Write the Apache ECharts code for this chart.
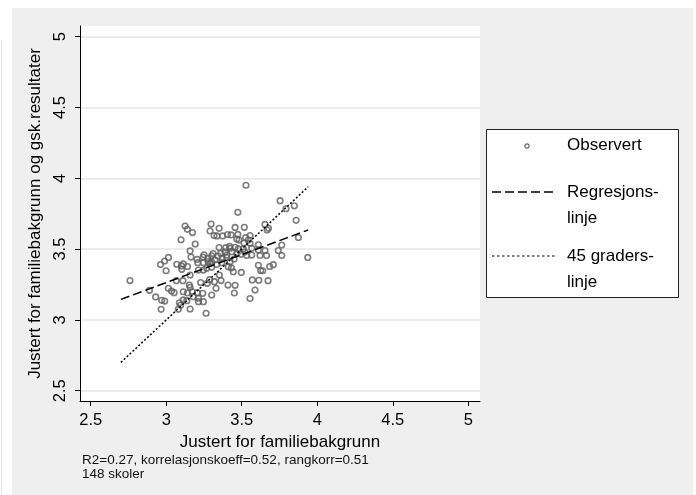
<!DOCTYPE html>
<html><head><meta charset="utf-8">
<script src="https://cdn.jsdelivr.net/npm/echarts@6/dist/echarts.min.js"></script>
<style>html,body{margin:0;padding:0;background:#fff}#c{width:696px;height:495px}</style>
</head><body><div id="c"></div>
<script>
const obsX = [3.528,3.754,3.848,3.793,3.474,3.860,3.654,3.677,3.668,3.875,3.937,3.765,3.742,3.765,
3.125,3.140,3.174,3.098,3.192,3.158,3.297,3.290,3.317,3.350,3.336,3.373,3.406,3.429,3.456,3.517,
3.474,3.467,3.482,3.526,3.555,3.544,3.515,3.555,3.566,3.350,3.394,3.423,3.456,3.477,3.511,3.434,
3.401,3.495,3.533,3.566,3.610,3.654,3.621,3.664,3.015,2.989,2.962,2.999,3.070,3.101,3.113,3.141,
3.103,3.164,3.204,3.209,3.246,3.290,3.334,3.368,3.423,3.268,3.301,3.213,3.246,3.301,3.244,3.277,
3.310,3.343,3.370,3.323,3.277,3.389,3.411,3.432,3.444,3.497,3.610,3.625,3.639,3.685,3.709,3.158,
3.352,2.760,3.067,3.111,3.153,3.158,3.228,3.287,3.319,3.363,3.330,3.409,3.456,3.451,3.570,3.613,
3.674,3.588,3.555,2.889,2.930,2.970,2.990,2.966,3.014,3.035,3.052,3.113,3.140,3.173,3.206,3.242,
3.272,3.301,3.213,3.213,3.246,3.113,3.136,3.087,3.096,3.080,3.158,3.264,3.179,3.360,3.400,3.450,
3.470,3.250,3.520,3.420,3.300,3.610];
const obsY = [3.951,3.842,3.806,3.785,3.760,3.703,3.674,3.647,3.635,3.582,3.441,3.529,3.490,3.455,
3.663,3.640,3.617,3.566,3.536,3.487,3.677,3.628,3.596,3.647,3.593,3.593,3.603,3.600,3.653,3.654,
3.604,3.571,3.564,3.581,3.596,3.564,3.543,3.541,3.506,3.511,3.510,3.506,3.513,3.501,3.501,3.482,
3.458,3.463,3.455,3.458,3.494,3.490,3.455,3.455,3.441,3.416,3.391,3.347,3.393,3.381,3.395,3.377,
3.357,3.444,3.427,3.404,3.404,3.400,3.391,3.404,3.411,3.364,3.371,3.352,3.352,3.453,3.444,3.434,
3.469,3.451,3.434,3.423,3.412,3.480,3.376,3.367,3.340,3.335,3.386,3.349,3.347,3.377,3.390,3.317,
3.317,3.278,3.277,3.277,3.246,3.230,3.264,3.284,3.270,3.278,3.223,3.246,3.244,3.190,3.282,3.280,
3.277,3.211,3.151,3.209,3.162,3.138,3.133,3.075,3.223,3.204,3.192,3.199,3.190,3.199,3.192,3.188,
3.258,3.176,3.153,3.129,3.129,3.141,3.136,3.121,3.105,3.075,3.077,3.047,3.164,3.470,3.440,3.430,
3.470,3.460,3.480,3.520,3.410,3.530];
const regX = [2.70, 3.94];
const regY = [3.145, 3.635];
const diagX = [2.70, 3.94];
const diagY = [2.70, 3.94];
const xTicks = [2.5, 3, 3.5, 4, 4.5, 5];
const yTicks = [2.5, 3, 3.5, 4, 4.5, 5];
const legendNames = ['Observert', 'Regresjons-', 'linje', '45 graders-', 'linje'];
const xTitle = 'Justert for familiebakgrunn';
const yTitle = 'Justert for familiebakgrunn og gsk.resultater';
const noteLines = ['R2=0.27, korrelasjonskoeff=0.52, rangkorr=0.51', '148 skoler'];

const FONT = '"Liberation Sans", Arial, Helvetica, sans-serif';
const chart = echarts.init(document.getElementById('c'), null, {renderer: 'canvas'});
const legendFont = '17px ' + FONT;
chart.setOption({
  animation: false,
  backgroundColor: '#efefef',
  textStyle: {fontFamily: FONT},
  grid: {left: 80, top: 26, width: 400, height: 375, show: true, backgroundColor: '#ffffff', borderWidth: 0},
  xAxis: {
    type: 'value', min: 2.4291, max: 5.0775,
    name: xTitle, nameLocation: 'middle', nameGap: 28,
    nameTextStyle: {fontSize: 17, color: '#000', fontFamily: FONT},
    axisLine: {show: true, onZero: false, lineStyle: {color: '#000', width: 1}},
    axisTick: {show: true, length: 5, inside: false, customValues: xTicks, lineStyle: {color: '#000', width: 1}},
    axisLabel: {customValues: xTicks, fontSize: 16.5, color: '#000', margin: 11, fontFamily: FONT},
    splitLine: {show: false}
  },
  yAxis: {
    type: 'value', min: 2.4273, max: 5.0756,
    name: yTitle, nameLocation: 'middle', nameGap: 33, nameRotate: 90,
    nameTextStyle: {fontSize: 17, color: '#000', fontFamily: FONT},
    axisLine: {show: true, onZero: false, lineStyle: {color: '#000', width: 1}},
    axisTick: {show: true, length: 5, inside: false, customValues: yTicks, lineStyle: {color: '#000', width: 1}},
    axisLabel: {customValues: yTicks, fontSize: 16.5, color: '#000', rotate: 90, margin: 11, fontFamily: FONT},
    splitLine: {show: true, lineStyle: {color: '#e6e6e6', width: 1.5}}
  },
  series: [
    {
      type: 'scatter', name: legendNames[0],
      data: obsX.map((x, i) => [x, obsY[i]]),
      symbol: 'circle', symbolSize: 5.6,
      itemStyle: {color: 'rgba(0,0,0,0)', borderColor: '#5c5c5c', borderWidth: 1.6},
      z: 2, silent: true
    },
    {
      type: 'line', name: 'Regresjonslinje',
      data: regX.map((x, i) => [x, regY[i]]),
      symbol: 'none', showSymbol: false,
      lineStyle: {color: '#000', width: 1.5, type: [9, 4]},
      z: 3, silent: true
    },
    {
      type: 'line', name: '45 graderslinje',
      data: diagX.map((x, i) => [x, diagY[i]]),
      symbol: 'none', showSymbol: false,
      lineStyle: {color: '#000', width: 1.5, type: [2, 2]},
      z: 3, silent: true
    }
  ],
  graphic: [
    {type: 'rect', shape: {x: 0, y: 0, width: 12, height: 495}, style: {fill: '#fff'}, silent: true, z: -10},
    {type: 'rect', shape: {x: 0, y: 0, width: 696, height: 8}, style: {fill: '#fff'}, silent: true, z: -10},
    {type: 'rect', shape: {x: 693, y: 0, width: 3, height: 495}, style: {fill: '#fff'}, silent: true, z: -10},
    {type: 'line', shape: {x1: 1.5, y1: 40, x2: 1.5, y2: 495}, style: {stroke: '#e2e2e2', lineWidth: 1}, silent: true},
    {type: 'text', style: {text: noteLines.join('\n'), x: 82, y: 453, font: '13.5px ' + FONT, lineHeight: 14.5, fill: '#111'}, silent: true},
    {type: 'group', silent: true, children: [
      {type: 'rect', shape: {x: 486.5, y: 129.5, width: 192, height: 168}, style: {fill: '#fff', stroke: '#222', lineWidth: 1}},
      {type: 'circle', shape: {cx: 527, cy: 146, r: 2.1}, style: {fill: 'none', stroke: '#666', lineWidth: 1.1}},
      {type: 'text', style: {text: legendNames[0], x: 567, y: 145, font: legendFont, fill: '#000', verticalAlign: 'middle'}},
      {type: 'line', shape: {x1: 492, y1: 192, x2: 557, y2: 192}, style: {stroke: '#000', lineWidth: 1.5, lineDash: [9, 4]}},
      {type: 'text', style: {text: legendNames[1], x: 567, y: 192, font: legendFont, fill: '#000', verticalAlign: 'middle'}},
      {type: 'text', style: {text: legendNames[2], x: 567, y: 218, font: legendFont, fill: '#000', verticalAlign: 'middle'}},
      {type: 'line', shape: {x1: 492, y1: 256, x2: 557, y2: 256}, style: {stroke: '#000', lineWidth: 1.2, lineDash: [2.5, 2.5]}},
      {type: 'text', style: {text: legendNames[3], x: 567, y: 256, font: legendFont, fill: '#000', verticalAlign: 'middle'}},
      {type: 'text', style: {text: legendNames[4], x: 567, y: 282, font: legendFont, fill: '#000', verticalAlign: 'middle'}}
    ]}
  ]
});
</script>
</body></html>
